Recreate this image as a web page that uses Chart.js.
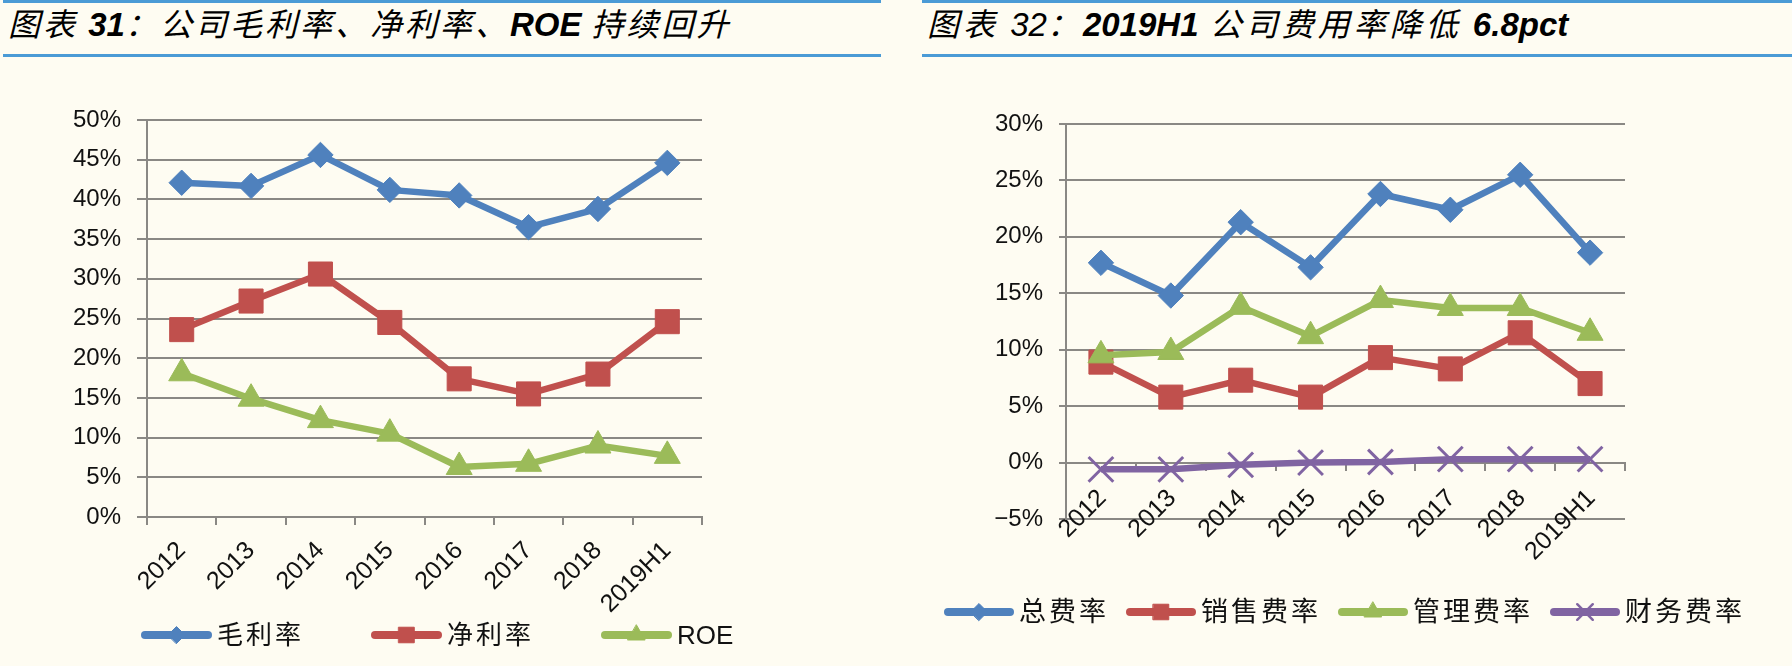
<!DOCTYPE html>
<html>
<head>
<meta charset="utf-8">
<script src="https://cdn.jsdelivr.net/npm/chart.js@4.4.1/dist/chart.umd.min.js"></script>
<style>
  html, body { margin: 0; padding: 0; width: 1792px; height: 666px; overflow: hidden; background: #fefcf2; }
  .rule { position: absolute; height: 3px; background: #4b9bd6; }
  .title { position: absolute; top: -1px; line-height: 40px; white-space: nowrap; color: #000;
           font: italic 32px "Noto Sans CJK SC", sans-serif; letter-spacing: 4px; }
  .title b { font-family: "Liberation Sans", sans-serif; font-weight: bold; font-size: 33px; letter-spacing: 0; }
  .title .lat { font-family: "Liberation Sans", sans-serif; font-size: 33px; letter-spacing: 0; }
  canvas { position: absolute; }
</style>
</head>
<body>
<div class="rule" style="left:3px;width:878px;top:0"></div>
<div class="rule" style="left:3px;width:878px;top:54px"></div>
<div class="title" style="left:8px;letter-spacing:3px">图表 <b>31</b>：公司毛利率、净利率、<b>ROE</b> 持续回升</div>

<div class="rule" style="left:922px;width:870px;top:0"></div>
<div class="rule" style="left:922px;width:870px;top:54px"></div>
<div class="title" style="left:927px">图表 <span class="lat">32</span>：<b>2019H1</b> 公司费用率降低 <b>6.8pct</b></div>

<canvas id="marginChart" width="900" height="606" style="left:0;top:60px"></canvas>
<canvas id="expenseChart" width="892" height="606" style="left:900px;top:60px"></canvas>

<script>
// data (percent)
const years = ['2012', '2013', '2014', '2015', '2016', '2017', '2018', '2019H1'];

const grossMargin = [42.1, 41.7, 45.6, 41.2, 40.5, 36.5, 38.8, 44.6];
const netMargin   = [23.6, 27.2, 30.6, 24.5, 17.4, 15.5, 18.0, 24.6];
const roe         = [18.1, 14.9, 12.2, 10.5, 6.3, 6.7, 9.0, 7.7];

const totalExpense   = [17.7, 14.8, 21.3, 17.3, 23.8, 22.4, 25.5, 18.6];
const salesExpense   = [8.9, 5.8, 7.3, 5.8, 9.3, 8.3, 11.5, 7.0];
const adminExpense   = [9.5, 9.8, 13.8, 11.2, 14.4, 13.7, 13.7, 11.5];
const financeExpense = [-0.6, -0.6, -0.2, 0.0, 0.05, 0.3, 0.3, 0.3];

const BLUE = '#4f81bd', RED = '#c0504d', GREEN = '#9bbb59', PURPLE = '#8064a2';
const GRID = '#8a8884';
const SANS = '"Liberation Sans Narrow", "Arial Narrow", "Liberation Sans", "Noto Sans CJK SC", sans-serif';

const markerSize = { rectRot: 12.7, rect: 17, triangle: 15, crossRot: 17.5 };
const legendMarker = { rectRot: 8.5, rect: 11, triangle: 10, crossRot: 11 };

function series(label, data, color, pointStyle, idx) {
    const r = markerSize[pointStyle];
    return {
        label, data,
        borderColor: color, backgroundColor: color,
        borderWidth: 6.5, borderJoinStyle: 'round', tension: 0,
        pointStyle, pointRadius: r, pointHoverRadius: r,
        pointBackgroundColor: color, pointBorderColor: color,
        pointBorderWidth: pointStyle === 'crossRot' ? 3 : 1,
        order: 10 - idx, clip: false
    };
}

// excel-like legend: thick line with the marker in its middle
const lineLegend = {
    id: 'lineLegend',
    afterDraw(chart, args, opts) {
        const ctx = chart.ctx;
        ctx.save();
        ctx.font = opts.font;
        ctx.textBaseline = 'middle';
        let x = opts.x;
        chart.data.datasets.forEach((ds, i) => {
            const x0 = opts.colWidth ? opts.x + i * opts.colWidth : x;
            ctx.strokeStyle = ds.borderColor;
            ctx.fillStyle = ds.borderColor;
            ctx.lineWidth = opts.lineWidth;
            ctx.lineCap = 'round';
            ctx.beginPath();
            ctx.moveTo(x0 + opts.lineWidth / 2, opts.y);
            ctx.lineTo(x0 + opts.lineLen - opts.lineWidth / 2, opts.y);
            ctx.stroke();
            ctx.lineWidth = ds.pointStyle === 'crossRot' ? 2.5 : 1;
            Chart.helpers.drawPoint(ctx, {
                pointStyle: ds.pointStyle, rotation: 0,
                radius: legendMarker[ds.pointStyle], borderWidth: ctx.lineWidth
            }, x0 + opts.lineLen / 2, opts.y);
            // only the chinese labels are spaced out
            ctx.letterSpacing = /[\u4e00-\u9fff]/.test(ds.label) ? opts.letterSpacing : '0px';
            ctx.fillStyle = '#111';
            const tx = x0 + opts.lineLen + opts.textGap;
            ctx.fillText(ds.label, tx, opts.y + 2);
            x = tx + ctx.measureText(ds.label).width + opts.gap;
        });
        ctx.restore();
    }
};

function makeOptions(cfg) {
    return {
        responsive: false,
        animation: false,
        layout: { padding: cfg.padding },
        plugins: {
            legend: { display: false },
            tooltip: { enabled: false },
            lineLegend: cfg.legend
        },
        scales: {
            x: {
                type: 'category',
                offset: true,
                position: { y: 0 },
                grid: { offset: true, drawOnChartArea: false, drawTicks: true, tickLength: 7, color: GRID, lineWidth: 2 },
                border: { display: true, color: GRID, width: 2 },
                ticks: {
                    autoSkip: false, maxRotation: 45, minRotation: 45,
                    labelOffset: cfg.labelOffset, padding: cfg.labelPad, color: '#111',
                    font: { family: SANS, size: 25 }
                }
            },
            y: {
                min: cfg.min, max: cfg.max,
                grid: { color: GRID, lineWidth: 2, tickLength: cfg.tickLen },
                border: { display: true, color: GRID, width: 2 },
                ticks: {
                    stepSize: 5, padding: 16, color: '#111',
                    font: { family: SANS, size: 24 },
                    callback: v => (v < 0 ? '\u2212' + Math.abs(v) : v) + '%'
                },
                afterFit(scale) { scale.width = cfg.yWidth; }
            }
        }
    };
}

new Chart(document.getElementById('marginChart'), {
    type: 'line',
    data: {
        labels: years,
        datasets: [
            series('毛利率', grossMargin, BLUE, 'rectRot', 0),
            series('净利率', netMargin, RED, 'rect', 1),
            series('ROE', roe, GREEN, 'triangle', 2)
        ]
    },
    options: makeOptions({
        min: 0, max: 50, tickLen: 10, yWidth: 147, labelOffset: 0, labelPad: 12,
        padding: { left: 0, top: 60, right: 198, bottom: 149 },
        legend: { x: 141, y: 575, colWidth: 230, lineLen: 71, lineWidth: 8, textGap: 5, gap: 0,
                  font: '26px ' + SANS, letterSpacing: '3px' }
    }),
    plugins: [lineLegend]
});

new Chart(document.getElementById('expenseChart'), {
    type: 'line',
    data: {
        labels: years,
        datasets: [
            series('总费率', totalExpense, BLUE, 'rectRot', 0),
            series('销售费率', salesExpense, RED, 'rect', 1),
            series('管理费率', adminExpense, GREEN, 'triangle', 2),
            series('财务费率', financeExpense, PURPLE, 'crossRot', 3)
        ]
    },
    options: makeOptions({
        min: -5, max: 30, tickLen: 7, yWidth: 166, labelOffset: 1.5, labelPad: 14,
        padding: { left: 0, top: 64, right: 167, bottom: 147 },
        legend: { x: 44, y: 552, lineLen: 70, lineWidth: 8, textGap: 5, gap: 17,
                  font: '27px ' + SANS, letterSpacing: '3px' }
    }),
    plugins: [lineLegend]
});
</script>
</body>
</html>
